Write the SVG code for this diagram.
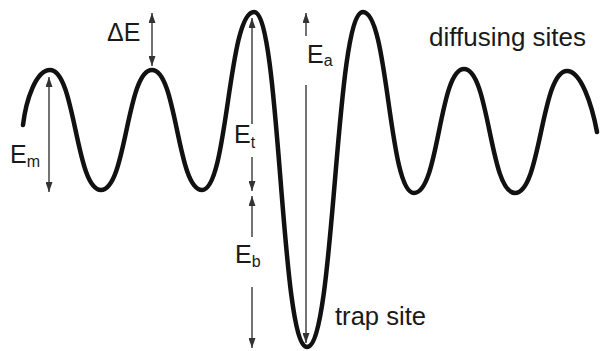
<svg xmlns="http://www.w3.org/2000/svg" width="606" height="351" viewBox="0 0 606 351">
  <defs>
    <style>
      .curve { fill: none; stroke: #111; stroke-width: 4.5; stroke-linecap: round; stroke-linejoin: round; }
      .arr { stroke: #444; stroke-width: 1.5; fill: none; }
      .lbl { font-family: "Liberation Sans", Arial, sans-serif; font-size: 25px; fill: #1a1a1a; }
      .sub { font-size: 16px; }
    </style>
    <marker id="ah" viewBox="0 0 10 7" refX="10" refY="3.5" markerWidth="10" markerHeight="7" markerUnits="userSpaceOnUse" orient="auto-start-reverse">
      <path d="M0,0 L10,3.5 L0,7 Z" fill="#333"/>
    </marker>
  </defs>
  <rect width="606" height="351" fill="#fff"/>

  <g id="energy-landscape">
    <path class="curve" d="M23,125 C26,100 36,70 50,70 C75.5,70 75.5,190 101,190 C126.5,190 126.5,70 152,70 C177,70 177,190 202,190 C228,190 228,12 254,12 C280.5,12 280.5,347 307,347 C335,347 335,12 363,12 C388.5,12 388.5,193 414,193 C439,193 439,69 464,69 C489.5,69 489.5,193 515,193 C541,193 541,71 567,71 C581,71 592,105 597,132"/>
  </g>

  <g id="connectors">
    <line class="arr" x1="49" y1="77" x2="49" y2="192" marker-start="url(#ah)" marker-end="url(#ah)"/>
    <line class="arr" x1="152" y1="13" x2="152" y2="66" marker-start="url(#ah)" marker-end="url(#ah)"/>
    <line class="arr" x1="252" y1="18" x2="252" y2="124" marker-start="url(#ah)"/>
    <line class="arr" x1="252" y1="157" x2="252" y2="191" marker-end="url(#ah)"/>
    <line class="arr" x1="252" y1="196" x2="252" y2="237" marker-start="url(#ah)"/>
    <line class="arr" x1="252" y1="287" x2="252" y2="348" marker-end="url(#ah)"/>
    <line class="arr" x1="306" y1="36" x2="306" y2="13" marker-end="url(#ah)"/>
    <line class="arr" x1="306" y1="85" x2="306" y2="343" marker-end="url(#ah)"/>
  </g>

  <g id="label-dE"><text class="lbl" x="107" y="41">ΔE</text></g>
  <g id="label-Em"><text class="lbl" x="10" y="163">E<tspan class="sub" dy="4">m</tspan></text></g>
  <g id="label-Et"><text class="lbl" x="234" y="143">E<tspan class="sub" dy="5">t</tspan></text></g>
  <g id="label-Eb"><text class="lbl" x="235" y="263">E<tspan class="sub" dy="4">b</tspan></text></g>
  <g id="label-Ea"><text class="lbl" x="307" y="63">E<tspan class="sub" dy="3">a</tspan></text></g>
  <g id="label-diffusing"><text class="lbl" x="429" y="46" textLength="157" lengthAdjust="spacingAndGlyphs">diffusing sites</text></g>
  <g id="label-trap"><text class="lbl" x="335" y="325" textLength="91" lengthAdjust="spacingAndGlyphs">trap site</text></g>
</svg>
